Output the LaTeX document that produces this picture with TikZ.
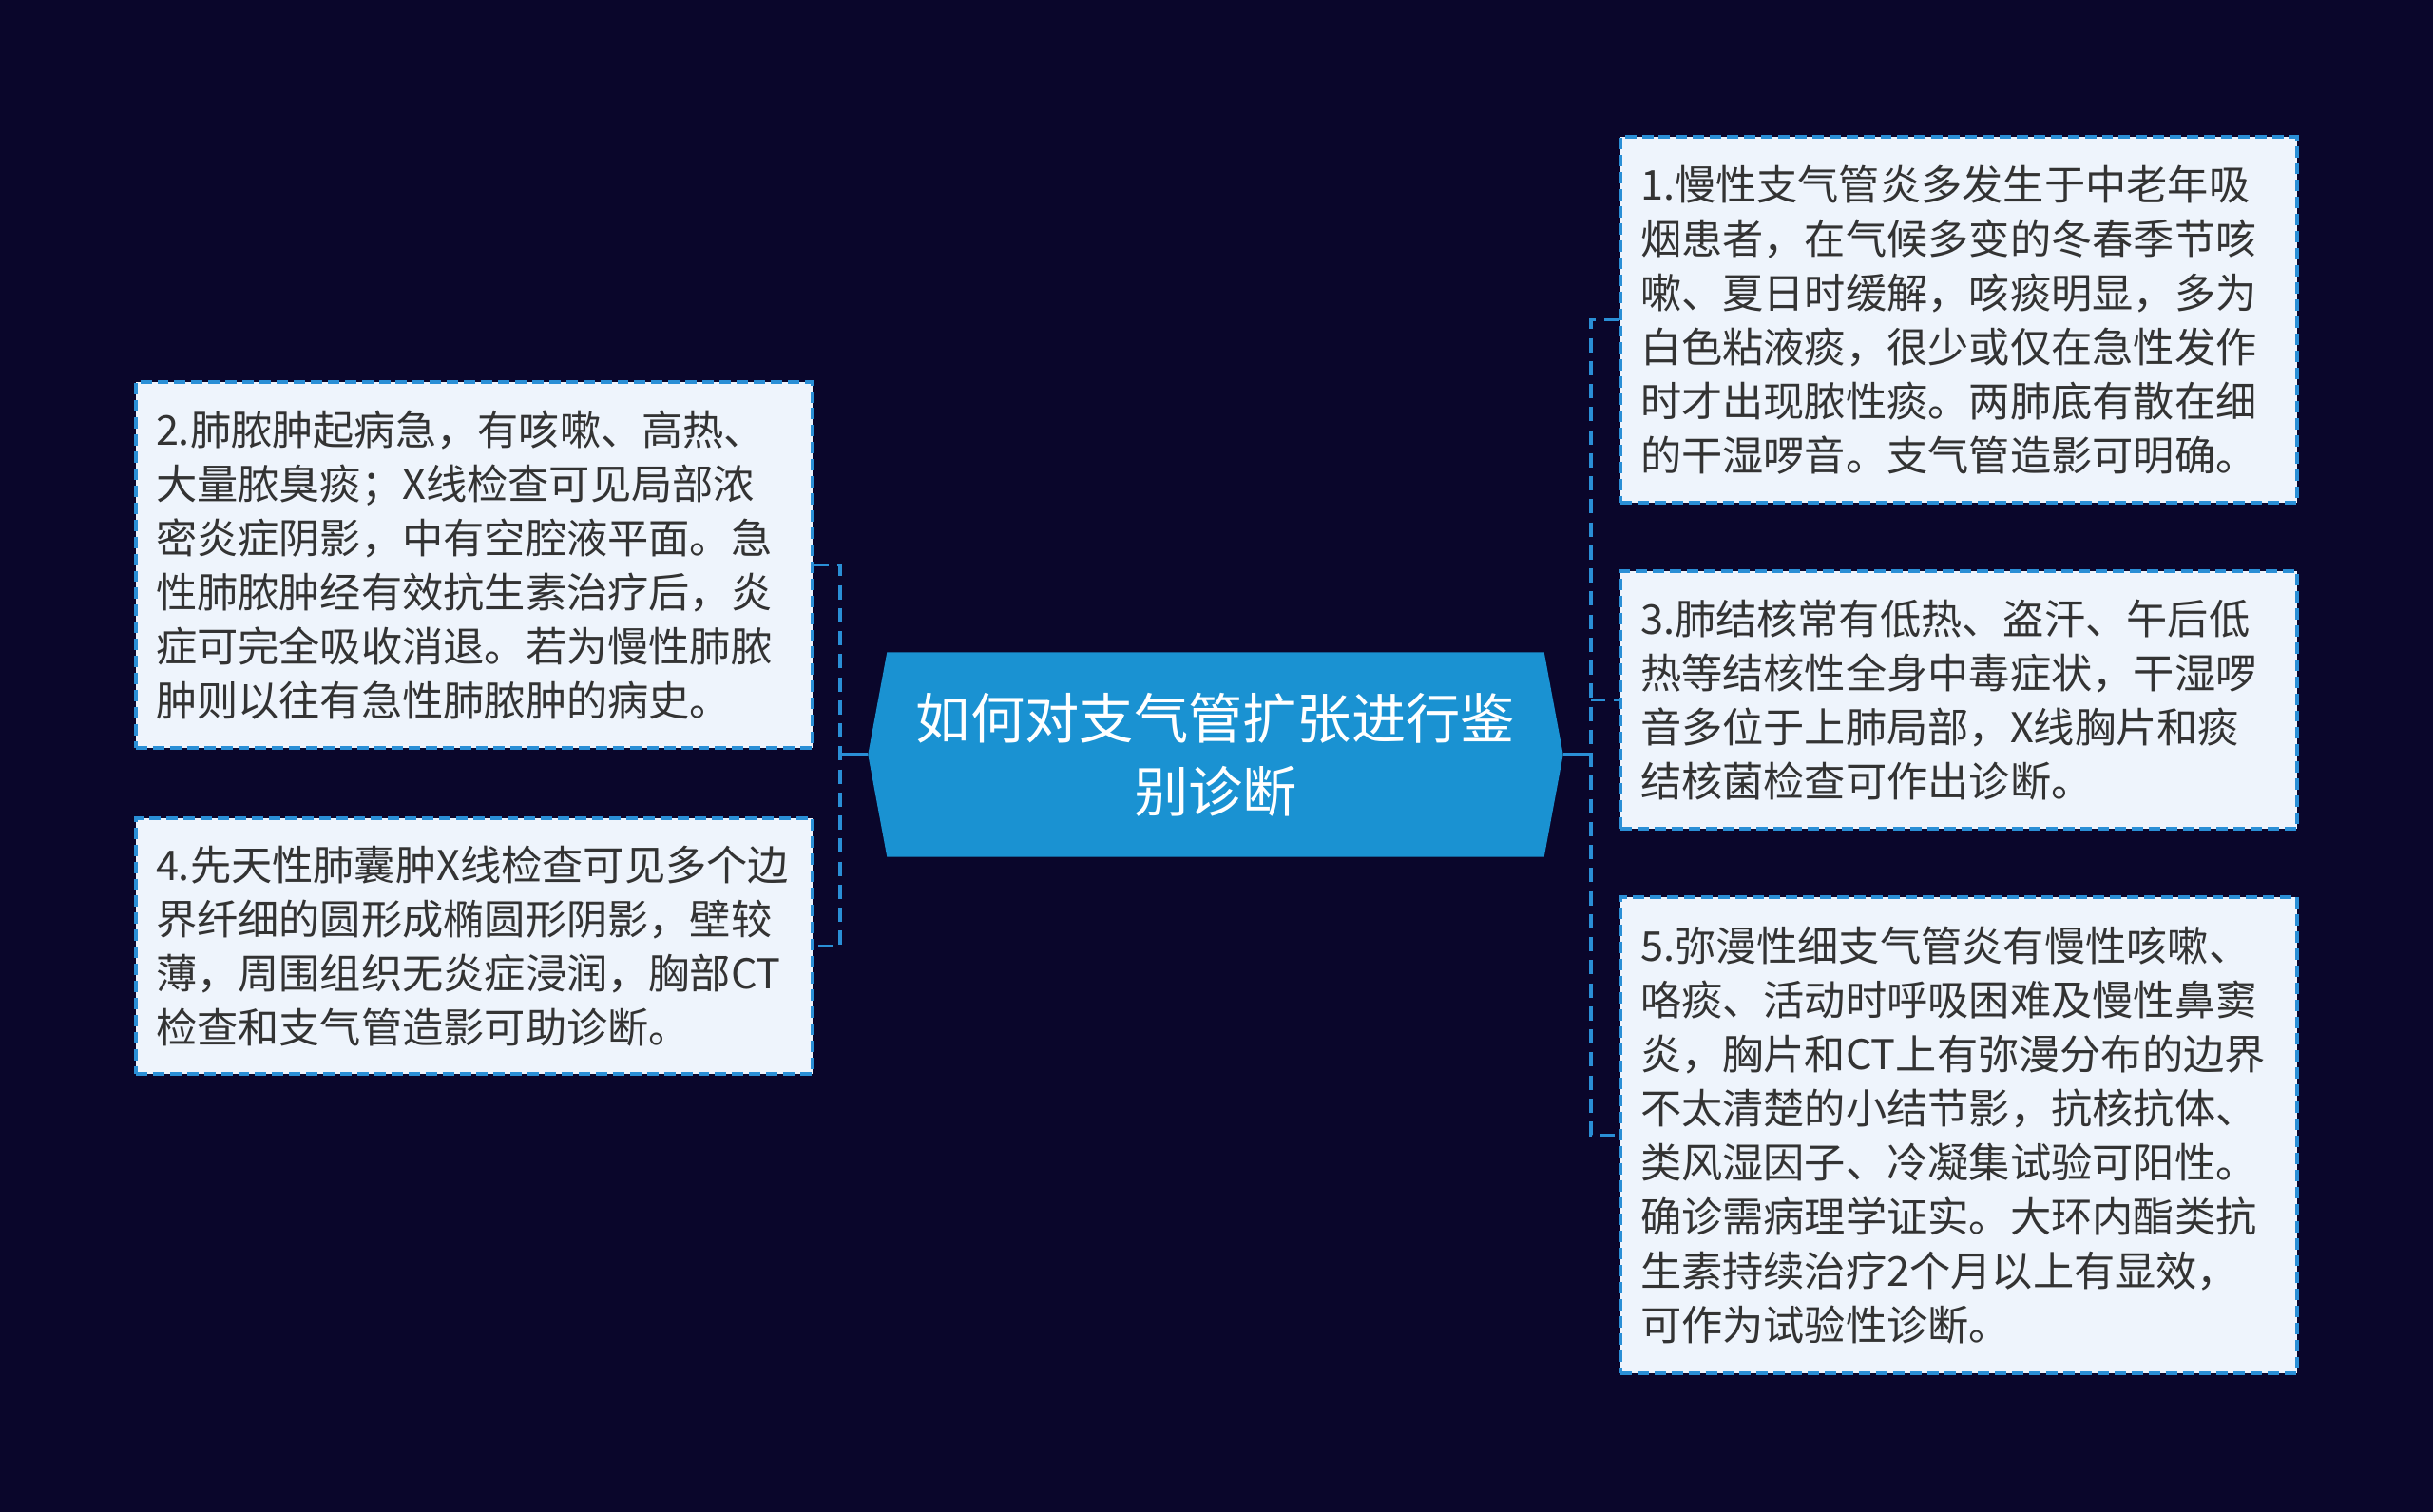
\documentclass[tikz,border=0pt]{standalone}
\usepackage{fontspec}
\setmainfont{Noto Sans CJK SC}
\usetikzlibrary{backgrounds}
\definecolor{bgnavy}{HTML}{0A062B}
\definecolor{rootblue}{HTML}{1A92D2}
\definecolor{linkblue}{HTML}{2A8FD6}
\definecolor{boxfill}{HTML}{EEF4FC}
\definecolor{boxtext}{HTML}{333333}
\begin{document}
\begin{tikzpicture}[
    topic/.style = {minimum width=7.30cm, minimum height=2.14cm, inner sep=0pt,
                    align=center, text=white, font=\fontsize{16.3}{21.9}\selectfont},
    note/.style  = {draw=linkblue, fill=boxfill, line width=0.9pt, dash pattern=on 3.4pt off 1.7pt,
                    text width=6.70cm, inner xsep=0.21cm, inner ysep=0pt, align=left,
                    text=boxtext, font=\fontsize{12.3}{16.2}\selectfont},
    link/.style  = {draw=linkblue, line width=1pt},
    dlink/.style = {link, dash pattern=on 4.3pt off 2.6pt}
  ]

      \useasboundingbox (0, 0) rectangle (25.6, 15.91);

      \node[topic] (root) at (12.79, 7.97) {如何对支气管扩张进行鉴\\别诊断};

      \node[note, minimum height=3.85cm] (n1) at (20.61, 12.545) {1.慢性支气管炎多发生于中老年吸\\烟患者，在气候多变的冬春季节咳\\嗽、夏日时缓解，咳痰明显，多为\\白色粘液痰，很少或仅在急性发作\\时才出现脓性痰。两肺底有散在细\\的干湿啰音。支气管造影可明确。};
      \node[note, minimum height=2.71cm] (n3) at (20.61, 8.545) {3.肺结核常有低热、盗汗、午后低\\热等结核性全身中毒症状，干湿啰\\音多位于上肺局部，X线胸片和痰\\结核菌检查可作出诊断。};
      \node[note, minimum height=5.01cm] (n5) at (20.61, 3.965) {5.弥漫性细支气管炎有慢性咳嗽、\\咯痰、活动时呼吸困难及慢性鼻窦\\炎，胸片和CT上有弥漫分布的边界\\不太清楚的小结节影，抗核抗体、\\类风湿因子、冷凝集试验可阳性。\\确诊需病理学证实。大环内酯类抗\\生素持续治疗2个月以上有显效，\\可作为试验性诊断。};
      \node[note, minimum height=3.85cm] (n2) at (4.99, 9.965) {2.肺脓肿起病急，有咳嗽、高热、\\大量脓臭痰；X线检查可见局部浓\\密炎症阴影，中有空腔液平面。急\\性肺脓肿经有效抗生素治疗后，炎\\症可完全吸收消退。若为慢性肺脓\\肿则以往有急性肺脓肿的病史。};
      \node[note, minimum height=2.69cm] (n4) at (4.99, 5.955) {4.先天性肺囊肿X线检查可见多个边\\界纤细的圆形成椭圆形阴影，壁较\\薄，周围组织无炎症浸润，胸部CT\\检查和支气管造影可助诊断。};

      \coordinate (lbr) at (8.84, 7.97);
      \coordinate (rbr) at (16.74, 7.97);

      \begin{scope}[on background layer]
        \fill[bgnavy] (0, 0) rectangle (25.6, 15.91);
        \fill[rootblue] (root.west) -- ([xshift=2mm]root.north west) -- ([xshift=-2mm]root.north east)
          -- (root.east) -- ([xshift=-2mm]root.south east) -- ([xshift=2mm]root.south west) -- cycle;
      \end{scope}

      \draw[link] (root.west) -- (lbr);
      \draw[link] (root.east) -- (rbr);
      \draw[dlink] (n2.east) -| (lbr) |- (n4.east);
      \draw[dlink] (n1.west) -| (rbr) |- (n5.west);
      \draw[dlink] (rbr |- n3.west) -- (n3.west);

    \end{tikzpicture}
\end{document}
